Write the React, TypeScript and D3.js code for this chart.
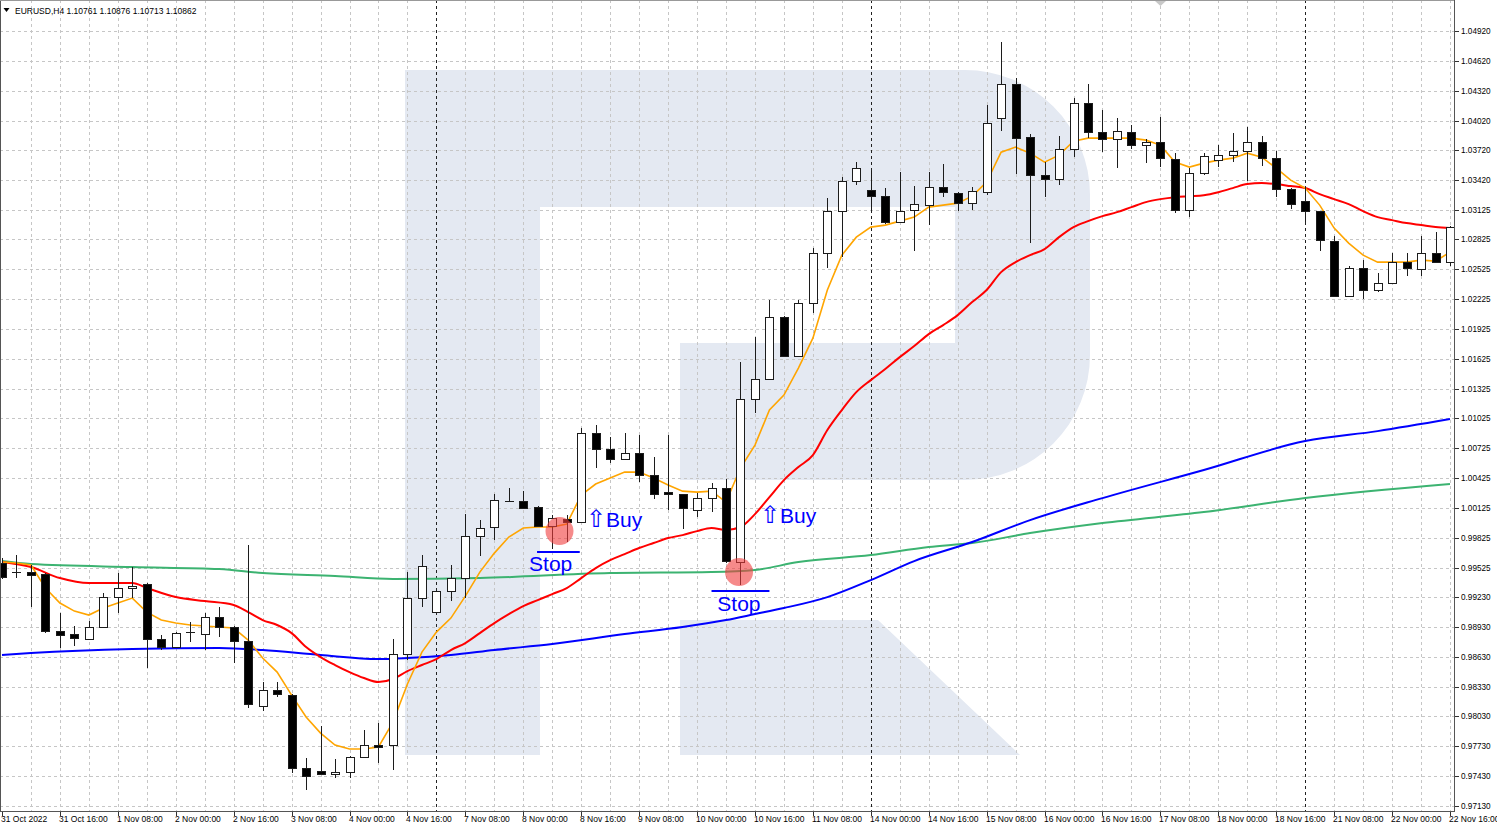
import React from 'react';
import * as d3 from 'd3';

const W = 1497;
const H = 828;
const PLOT_RIGHT = 1454;
const PLOT_BOTTOM = 811;

const symbolText = 'EURUSD,H4';
const headerQuote = '1.10761 1.10876 1.10713 1.10862';

const timeLabels = [
  '31 Oct 2022', '31 Oct 16:00', '1 Nov 08:00', '2 Nov 00:00', '2 Nov 16:00', '3 Nov 08:00',
  '4 Nov 00:00', '4 Nov 16:00', '7 Nov 08:00', '8 Nov 00:00', '8 Nov 16:00', '9 Nov 08:00',
  '10 Nov 00:00', '10 Nov 16:00', '11 Nov 08:00', '14 Nov 00:00', '14 Nov 16:00', '15 Nov 08:00',
  '16 Nov 00:00', '16 Nov 16:00', '17 Nov 08:00', '18 Nov 00:00', '18 Nov 16:00', '21 Nov 08:00',
  '22 Nov 00:00', '22 Nov 16:00',
];
const barsPerLabel = 4;
const weekStartBars = [30, 60, 90];

const priceTicks = [
  1.0492, 1.0462, 1.0432, 1.0402, 1.0372, 1.0342, 1.03125, 1.02825, 1.02525, 1.02225,
  1.01925, 1.01625, 1.01325, 1.01025, 1.00725, 1.00425, 1.00125, 0.99825, 0.99525, 0.9923,
  0.9893, 0.9863, 0.9833, 0.9803, 0.9773, 0.9743, 0.9713,
];

const opens = [
  0.99572, 0.99471, 0.99481, 0.99461, 0.98888, 0.98858, 0.98808, 0.98929, 0.9923, 0.99321,
  0.99361, 0.98808, 0.98728, 0.98868, 0.98858, 0.99029, 0.98929, 0.98788, 0.98135, 0.98296,
  0.98245, 0.97512, 0.97481, 0.97451, 0.97471, 0.97622, 0.97743, 0.97743, 0.98657, 0.9922,
  0.99079, 0.9929, 0.99421, 0.99843, 0.99934, 1.00195, 1.00195, 1.00135, 0.99944, 1.00014,
  0.99984, 1.00878, 1.00718, 1.00617, 1.00677, 1.00456, 1.00285, 1.00265, 1.00105, 1.00225,
  1.00326, 0.99582, 1.0122, 1.01421, 1.02044, 1.01652, 1.02185, 1.02687, 1.03109, 1.03411,
  1.03321, 1.0326, 1.02999, 1.0312, 1.0317, 1.03351, 1.0329, 1.0319, 1.033, 1.04044,
  1.04386, 1.03853, 1.03471, 1.03431, 1.03733, 1.04195, 1.03903, 1.03833, 1.03903, 1.03773,
  1.03803, 1.03632, 1.0312, 1.03491, 1.03622, 1.03672, 1.03712, 1.03803, 1.03642, 1.03331,
  1.0321, 1.03109, 1.02808, 1.02255, 1.02537, 1.02316, 1.02386, 1.02597, 1.02527, 1.02687,
  1.02597,
];
const highs = [
  0.99622, 0.99652, 0.99552, 0.99471, 0.99069, 0.98939, 0.98989, 0.9927, 0.99471, 0.99532,
  0.99371, 0.98848, 0.98878, 0.98979, 0.99069, 0.9913, 0.98939, 0.99753, 0.98376, 0.98376,
  0.98255, 0.97612, 0.97934, 0.97602, 0.97632, 0.97894, 0.97964, 0.98808, 0.99481, 0.99652,
  0.9929, 0.99552, 1.00064, 1.00004, 1.00265, 1.00326, 1.00295, 1.00145, 1.00054, 1.00054,
  1.00929, 1.00959, 1.00838, 1.00878, 1.00858, 1.00637, 1.00858, 1.00265, 1.00275, 1.00376,
  1.00416, 1.01592, 1.01843, 1.02215, 1.02054, 1.02215, 1.02738, 1.0324, 1.03451, 1.03602,
  1.03511, 1.03341, 1.03501, 1.03361, 1.03501, 1.03582, 1.033, 1.03351, 1.04175, 1.04808,
  1.04446, 1.03883, 1.03602, 1.03863, 1.04245, 1.04386, 1.04125, 1.04044, 1.03974, 1.03833,
  1.04054, 1.03692, 1.03542, 1.03692, 1.03773, 1.03893, 1.03954, 1.03863, 1.03712, 1.03341,
  1.03351, 1.03109, 1.02858, 1.02557, 1.02617, 1.02486, 1.02687, 1.02687, 1.02858, 1.02898,
  1.02959,
];
const lows = [
  0.99411, 0.99421, 0.9913, 0.98868, 0.98718, 0.98738, 0.98808, 0.98919, 0.99069, 0.9922,
  0.98517, 0.98698, 0.98718, 0.98778, 0.98698, 0.98828, 0.98567, 0.98115, 0.98084, 0.98225,
  0.97461, 0.9729, 0.97441, 0.97411, 0.97411, 0.97622, 0.97562, 0.97492, 0.98597, 0.9913,
  0.99069, 0.9919, 0.9922, 0.99642, 0.99803, 1.00185, 1.00115, 0.99944, 0.99713, 0.99783,
  0.99974, 1.00527, 1.00577, 1.00617, 1.00386, 1.00215, 1.00105, 0.99914, 1.00034, 1.00084,
  0.99572, 0.99351, 1.01079, 1.01421, 1.01642, 1.01642, 1.02084, 1.02537, 1.02647, 1.03371,
  1.03109, 1.02979, 1.02999, 1.02707, 1.02969, 1.0325, 1.03109, 1.0312, 1.0327, 1.03913,
  1.03481, 1.02788, 1.0325, 1.03371, 1.03652, 1.03843, 1.03702, 1.03542, 1.03733, 1.03592,
  1.03552, 1.03089, 1.03049, 1.03471, 1.03552, 1.03602, 1.03411, 1.03562, 1.0325, 1.0313,
  1.02999, 1.02707, 1.02255, 1.02255, 1.02225, 1.02295, 1.02386, 1.02456, 1.02456, 1.02587,
  1.02557,
];
const closes = [
  0.99431, 0.99481, 0.99456, 0.98888, 0.98848, 0.98818, 0.98929, 0.9923, 0.99321, 0.99341,
  0.98808, 0.98728, 0.98868, 0.98878, 0.99029, 0.98929, 0.98788, 0.98155, 0.98296, 0.98255,
  0.97512, 0.97431, 0.97451, 0.97471, 0.97622, 0.97743, 0.97723, 0.98657, 0.9922, 0.99542,
  0.9929, 0.99421, 0.99843, 0.99924, 1.00205, 1.002, 1.00125, 0.99944, 1.00024, 0.99984,
  1.00878, 1.00718, 1.00617, 1.00677, 1.00456, 1.00265, 1.00265, 1.00125, 1.00225, 1.00326,
  0.99592, 1.0122, 1.01421, 1.02044, 1.01652, 1.02185, 1.02687, 1.03109, 1.03411, 1.03542,
  1.0326, 1.02999, 1.03109, 1.0318, 1.03351, 1.033, 1.0319, 1.0331, 1.03994, 1.04386,
  1.03843, 1.03471, 1.03431, 1.03733, 1.04195, 1.03903, 1.03833, 1.03913, 1.03773, 1.03803,
  1.03642, 1.0312, 1.03491, 1.03662, 1.03672, 1.03712, 1.03803, 1.03642, 1.03331, 1.0318,
  1.03109, 1.02818, 1.02255, 1.02537, 1.02316, 1.02386, 1.02597, 1.02537, 1.02687, 1.02597,
  1.02949,
];

// Fast MA (orange), one value per bar
const orangeMA = [
  0.99582, 0.99572, 0.99552, 0.99321, 0.9917, 0.99089, 0.99049, 0.9912, 0.9917, 0.9922,
  0.99079, 0.98999, 0.98969, 0.98949, 0.98939, 0.98929, 0.98919, 0.98798, 0.98617, 0.98476,
  0.98245, 0.98024, 0.97863, 0.97743, 0.97703, 0.97703, 0.97723, 0.97974, 0.98356, 0.98677,
  0.98878, 0.99019, 0.9924, 0.99481, 0.99672, 0.99833, 0.99924, 0.99934, 0.99934, 0.99964,
  1.00255, 1.00366, 1.00426, 1.00486, 1.00486, 1.00426, 1.00356, 1.00295, 1.00285, 1.00295,
  1.00185, 1.00527, 1.00758, 1.0111, 1.0126, 1.01532, 1.01833, 1.02316, 1.02667, 1.02848,
  1.02949, 1.02969, 1.03009, 1.03049, 1.0315, 1.0317, 1.0319, 1.0326, 1.03401, 1.03702,
  1.03753, 1.03692, 1.03602, 1.03672, 1.03813, 1.03843, 1.03843, 1.03843, 1.03843, 1.03823,
  1.03773, 1.03602, 1.03552, 1.03592, 1.03622, 1.03642, 1.03692, 1.03652, 1.03542, 1.03421,
  1.03341, 1.0317, 1.02939, 1.02788, 1.02667, 1.02597, 1.02597, 1.02597, 1.02617, 1.02607,
  1.02697,
];

// Medium MA (red): [bar, price]
const redMA: [number, number][] = [
  [0, 0.99582], [2, 0.99532], [4, 0.99421], [6, 0.99371], [9, 0.99371], [10, 0.99321],
  [12, 0.9923], [14, 0.9919], [16, 0.9915], [17, 0.99079], [18, 0.98999], [19, 0.98949],
  [20, 0.98868], [21, 0.98728], [22, 0.98627], [23, 0.98547], [24, 0.98476], [25, 0.98416],
  [26, 0.98376], [27, 0.98406], [28, 0.98486], [29, 0.98547], [30, 0.98607], [31, 0.98698],
  [32, 0.98768], [33, 0.98868], [34, 0.98969], [35, 0.99059], [36, 0.9914], [37, 0.992],
  [38, 0.9926], [39, 0.99321], [40, 0.99421], [41, 0.99522], [42, 0.99602], [43, 0.99662],
  [44, 0.99723], [45, 0.99773], [46, 0.99823], [47, 0.99853], [48, 0.99893], [49, 0.99924],
  [50, 0.99904], [51, 0.99934], [52, 1.00064], [53, 1.00235], [54, 1.00406], [55, 1.00537],
  [56, 1.00657], [57, 1.00909], [58, 1.0111], [59, 1.0129], [60, 1.01411], [61, 1.01522],
  [62, 1.01642], [63, 1.01753], [64, 1.01873], [65, 1.01964], [66, 1.02064], [67, 1.02195],
  [68, 1.02316], [69, 1.02496], [70, 1.02597], [71, 1.02667], [72, 1.02728], [73, 1.02848],
  [74, 1.02949], [75, 1.03009], [76, 1.03059], [77, 1.03099], [78, 1.0315], [79, 1.032],
  [80, 1.0323], [81, 1.0325], [82, 1.0326], [83, 1.0327], [84, 1.033], [85, 1.03341],
  [86, 1.03381], [87, 1.03391], [88, 1.03381], [89, 1.03361], [90, 1.03341], [91, 1.0328],
  [92, 1.0323], [93, 1.0318], [94, 1.03109], [95, 1.03049], [96, 1.03019], [97, 1.02989],
  [98, 1.02969], [99, 1.02949], [100, 1.02939],
];

// Slow MA (blue): [bar, price]
const blueMA: [number, number][] = [
  [0, 0.98647], [2, 0.98667], [9, 0.98708], [15, 0.98718], [18, 0.98698], [22, 0.98647],
  [26, 0.98607], [28, 0.98617], [31, 0.98647], [34, 0.98698], [38, 0.98758], [43, 0.98858],
  [47, 0.98929], [50, 0.98999], [52, 0.99059], [54, 0.9912], [57, 0.9923], [60, 0.99401],
  [63, 0.99592], [67, 0.99783], [71, 1.00004], [76, 1.00225], [83, 1.00507], [90, 1.00798],
  [95, 1.00898], [100, 1.01019],
];

// Slowest MA (green): [bar, price]
const greenMA: [number, number][] = [
  [0, 0.99592], [2, 0.99562], [9, 0.99532], [15, 0.99512], [18, 0.99471], [23, 0.99441],
  [27, 0.99411], [33, 0.99421], [42, 0.99471], [49, 0.99481], [52, 0.99502], [55, 0.99582],
  [60, 0.99652], [64, 0.99733], [67, 0.99773], [71, 0.99873], [76, 0.99974], [83, 1.00084],
  [90, 1.00225], [100, 1.00366],
];

// Trade annotations (bar index / price coordinates)
const stopMarks = [
  { bar: 38.5, price: 0.99893, lineFrom: 36.95, lineTo: 39.9, linePrice: 0.99682, textBar: 36.4, textPrice: 0.99491 },
  { bar: 50.9, price: 0.99481, lineFrom: 49.0, lineTo: 53.0, linePrice: 0.9929, textBar: 49.4, textPrice: 0.99089 },
];
const buyMarks = [
  { bar: 40.33, price: 0.99934 },
  { bar: 52.35, price: 0.99974 },
];

const AXIS_FONT = "'Liberation Sans', Arial, sans-serif";

export default function App() {
  const n = opens.length;
  const x = d3.scaleLinear().domain([0, 100]).range([2, 1450]);
  const y = d3.scaleLinear().domain([0.9713, 1.0492]).range([806, 31]);
  const px = (i: number) => Math.round(x(i)) + 0.5;
  const py = (p: number) => Math.round(y(p)) + 0.5;

  const orangeLine = d3.line<number>().x((_, i) => x(i)).y((d) => y(d));
  const pairLine = d3
    .line<[number, number]>()
    .x((d) => x(d[0]))
    .y((d) => y(d[1]))
    .curve(d3.curveMonotoneX);

  const gridBars = d3.range(2, n, 2).filter((b) => !weekStartBars.includes(b));

  const wm =
    'M405,70 H965 A125,125 0 0 1 1090,195 V355 A125,125 0 0 1 965,480 H680 V343 H955 V207 H540 V755 H405 Z ' +
    'M680,620 H878 L1020,755 H680 Z';

  return (
    <svg
      width={W}
      height={H}
      style={{ position: 'absolute', left: 0, top: 0, display: 'block', background: '#fff' }}
      xmlns="http://www.w3.org/2000/svg"
    >
      <defs>
        <clipPath id="plotClip">
          <rect x={0} y={0} width={PLOT_RIGHT} height={PLOT_BOTTOM} />
        </clipPath>
      </defs>
      <rect x={0} y={0} width={W} height={H} fill="#ffffff" />

      {/* watermark logo */}
      <path d={wm} fill="#e4e9f2" />

      {/* horizontal grid */}
      {priceTicks.map((t) => (
        <line key={'hg' + t} x1={0} x2={PLOT_RIGHT} y1={py(t)} y2={py(t)} stroke="#c6c6c6" strokeDasharray="3,3" />
      ))}
      {/* vertical grid */}
      {gridBars.map((b) => (
        <line key={'vg' + b} x1={px(b)} x2={px(b)} y1={0} y2={PLOT_BOTTOM} stroke="#c6c6c6" strokeDasharray="3,3" />
      ))}
      {/* week separators */}
      {weekStartBars.map((b) => (
        <line key={'ws' + b} x1={px(b)} x2={px(b)} y1={0} y2={PLOT_BOTTOM} stroke="#222" strokeDasharray="3,3" />
      ))}

      <g clipPath="url(#plotClip)">
        {/* moving averages */}
        <path d={pairLine(greenMA) || ''} fill="none" stroke="#3cb371" strokeWidth={2} />
        <path d={pairLine(blueMA) || ''} fill="none" stroke="#0000ff" strokeWidth={2} />
        <path d={pairLine(redMA) || ''} fill="none" stroke="#ff0000" strokeWidth={2} />
        <path d={orangeLine(orangeMA) || ''} fill="none" stroke="#ffa500" strokeWidth={1.6} />

        {/* candles */}
        {opens.map((o, i) => {
          const c = closes[i];
          const cx = px(i);
          const top = Math.round(y(Math.max(o, c)));
          const bot = Math.round(y(Math.min(o, c)));
          const bull = c >= o;
          const h = Math.max(bot - top, 1);
          return (
            <g key={'c' + i}>
              <line x1={cx} x2={cx} y1={Math.round(y(highs[i]))} y2={Math.round(y(lows[i]))} stroke="#1c1c1c" strokeWidth={1} />
              {h <= 1 ? (
                <line x1={cx - 4.5} x2={cx + 4.5} y1={top + 0.5} y2={top + 0.5} stroke="#1c1c1c" />
              ) : (
                <rect
                  x={cx - 4}
                  y={top + 0.5}
                  width={8}
                  height={h}
                  fill={bull ? '#ffffff' : '#000000'}
                  stroke="#1c1c1c"
                  strokeWidth={1}
                />
              )}
            </g>
          );
        })}

        {/* stop circles */}
        {stopMarks.map((s, k) => (
          <circle key={'sc' + k} cx={x(s.bar)} cy={y(s.price)} r={14} fill="rgba(240,60,60,0.6)" />
        ))}
        {/* stop lines + labels */}
        {stopMarks.map((s, k) => (
          <g key={'sl' + k}>
            <line x1={x(s.lineFrom)} x2={x(s.lineTo)} y1={y(s.linePrice)} y2={y(s.linePrice)} stroke="#0000ff" strokeWidth={2} />
            <text x={x(s.textBar)} y={y(s.textPrice)} fontFamily={AXIS_FONT} fontSize={21} fill="#0000ff">
              Stop
            </text>
          </g>
        ))}
        {buyMarks.map((b, k) => (
          <text key={'b' + k} x={x(b.bar)} y={y(b.price)} fontFamily={AXIS_FONT} fontSize={21} fill="#0000ff">
            <tspan fontSize={24}>⇧</tspan>
            <tspan>Buy</tspan>
          </text>
        ))}
      </g>

      {/* frame */}
      <line x1={0.5} x2={0.5} y1={0} y2={PLOT_BOTTOM} stroke="#555" />
      <line x1={0} x2={PLOT_RIGHT} y1={0.5} y2={0.5} stroke="#999" />
      <line x1={PLOT_RIGHT + 0.5} x2={PLOT_RIGHT + 0.5} y1={0} y2={PLOT_BOTTOM + 1} stroke="#555" />
      <line x1={0} x2={PLOT_RIGHT + 1} y1={PLOT_BOTTOM + 0.5} y2={PLOT_BOTTOM + 0.5} stroke="#555" />

      {/* shift marker */}
      <polygon points="1155,1 1166,1 1160.5,6" fill="#c8c8c8" />

      {/* price axis */}
      {priceTicks.map((t) => (
        <g key={'pt' + t}>
          <line x1={PLOT_RIGHT + 1} x2={PLOT_RIGHT + 5} y1={py(t)} y2={py(t)} stroke="#333" />
          <text x={1461} y={py(t)} dy="0.35em" fontFamily={AXIS_FONT} fontSize={8.2} fill="#000">
            {t.toFixed(5)}
          </text>
        </g>
      ))}

      {/* time axis */}
      {timeLabels.map((lab, k) => {
        const b = k * barsPerLabel;
        return (
          <g key={'tl' + k}>
            <line x1={px(b)} x2={px(b)} y1={PLOT_BOTTOM + 1} y2={PLOT_BOTTOM + 5} stroke="#333" />
            <text x={px(b) - 1.5} y={822} fontFamily={AXIS_FONT} fontSize={8.5} fill="#000">
              {lab}
            </text>
          </g>
        );
      })}

      {/* header */}
      <polygon points="3.5,8 9.5,8 6.5,12" fill="#000" />
      <text x={15} y={13.5} fontFamily={AXIS_FONT} fontSize={8.5} fill="#000">
        {symbolText + '  ' + headerQuote}
      </text>
    </svg>
  );
}
